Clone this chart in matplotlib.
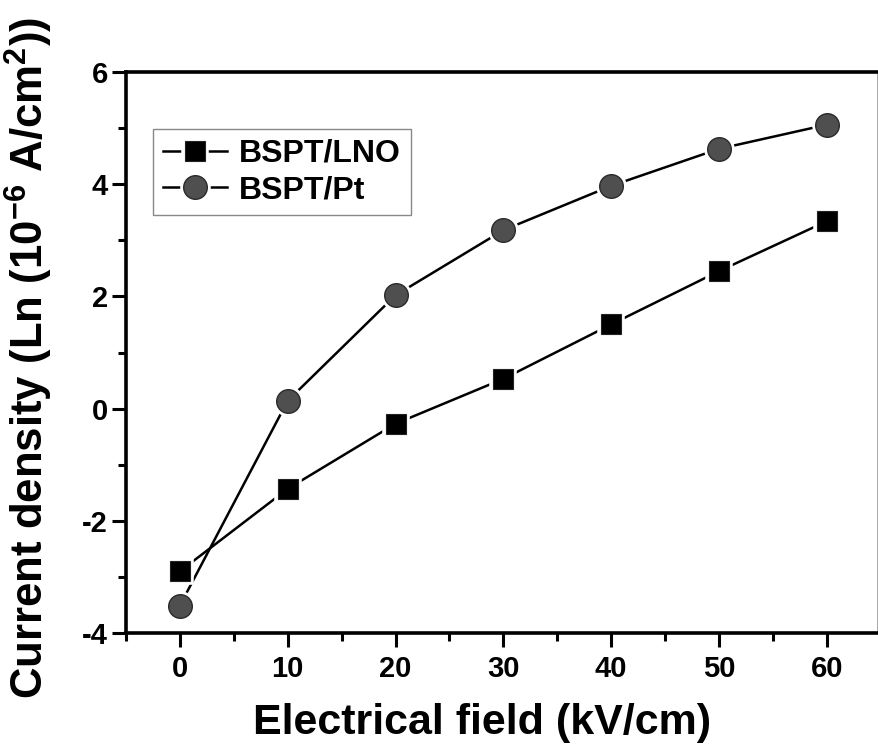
import matplotlib
matplotlib.use("Agg")
import matplotlib.pyplot as plt
from matplotlib.ticker import MultipleLocator

plt.rcParams["font.family"] = "Liberation Sans"
plt.rcParams["font.weight"] = "bold"
plt.rcParams["axes.unicode_minus"] = False
plt.rcParams["mathtext.fontset"] = "custom"
plt.rcParams["mathtext.rm"] = "Liberation Sans:bold"
plt.rcParams["mathtext.default"] = "rm"

# data
field = [0, 10, 20, 30, 40, 50, 60]
lno = [-2.90, -1.43, -0.27, 0.53, 1.50, 2.45, 3.34]
pt = [-3.51, 0.14, 2.02, 3.18, 3.97, 4.63, 5.06]

fig = plt.figure(figsize=(8.79, 7.56), dpi=100)
ax = fig.add_axes([126 / 879, 123 / 756, 752.5 / 879, 561 / 756])

# lines, then white halos (Origin-like gaps), then markers
l1, = ax.plot(field, lno, color="black", lw=1.8, zorder=2)
w1, = ax.plot(field, lno, ls="none", marker="s", ms=16, mfc="white", mec="white", mew=4, zorder=3)
m1, = ax.plot(field, lno, ls="none", marker="s", ms=15, mfc="black", mec="#222222", mew=0.8, zorder=4)
l2, = ax.plot(field, pt, color="black", lw=1.8, zorder=2)
w2, = ax.plot(field, pt, ls="none", marker="o", ms=18, mfc="white", mec="white", mew=4, zorder=3)
m2, = ax.plot(field, pt, ls="none", marker="o", ms=17, mfc="#4f4f4f", mec="#2a2a2a", mew=1.0, zorder=4)

ax.set_xlim(-5, 64.8)
ax.set_ylim(-4, 6)
ax.xaxis.set_major_locator(MultipleLocator(10))
ax.xaxis.set_minor_locator(MultipleLocator(5))
ax.yaxis.set_major_locator(MultipleLocator(2))
ax.yaxis.set_minor_locator(MultipleLocator(1))
ax.tick_params(which="major", direction="out", length=10, width=2.2, labelsize=21, pad=3)
ax.tick_params(axis="x", which="major", pad=6)
ax.tick_params(which="minor", direction="out", length=6, width=2.2)
ax.tick_params(top=False, right=False)
for lab in ax.get_xticklabels() + ax.get_yticklabels():
    lab.set_fontweight("bold")

for s in ["left", "bottom", "top"]:
    ax.spines[s].set_linewidth(2.6)
ax.spines["right"].set_linewidth(1.2)
ax.spines["right"].set_color("#999999")

ax.set_xlabel("Electrical field (kV/cm)", fontsize=31, fontweight="bold")
ax.xaxis.set_label_coords(0.473, -0.125)
ax.set_ylabel("Current density (Ln (10$^{-6}$ A/cm$^{2}$))", fontsize=31.5,
              fontweight="bold")
ax.yaxis.set_label_coords(-0.095, 0.49)

leg = ax.legend([(l1, w1, m1), (l2, w2, m2)], ["BSPT/LNO", "BSPT/Pt"],
                loc="upper left", bbox_to_anchor=(0.036, 0.898), borderaxespad=0,
                fontsize=23, handlelength=2.0, handletextpad=0.4, labelspacing=0.2,
                borderpad=0.3, fancybox=False, edgecolor="#888888", framealpha=1)
leg.get_frame().set_linewidth(1.0)

fig.savefig("out.png", dpi=100, facecolor="white")
